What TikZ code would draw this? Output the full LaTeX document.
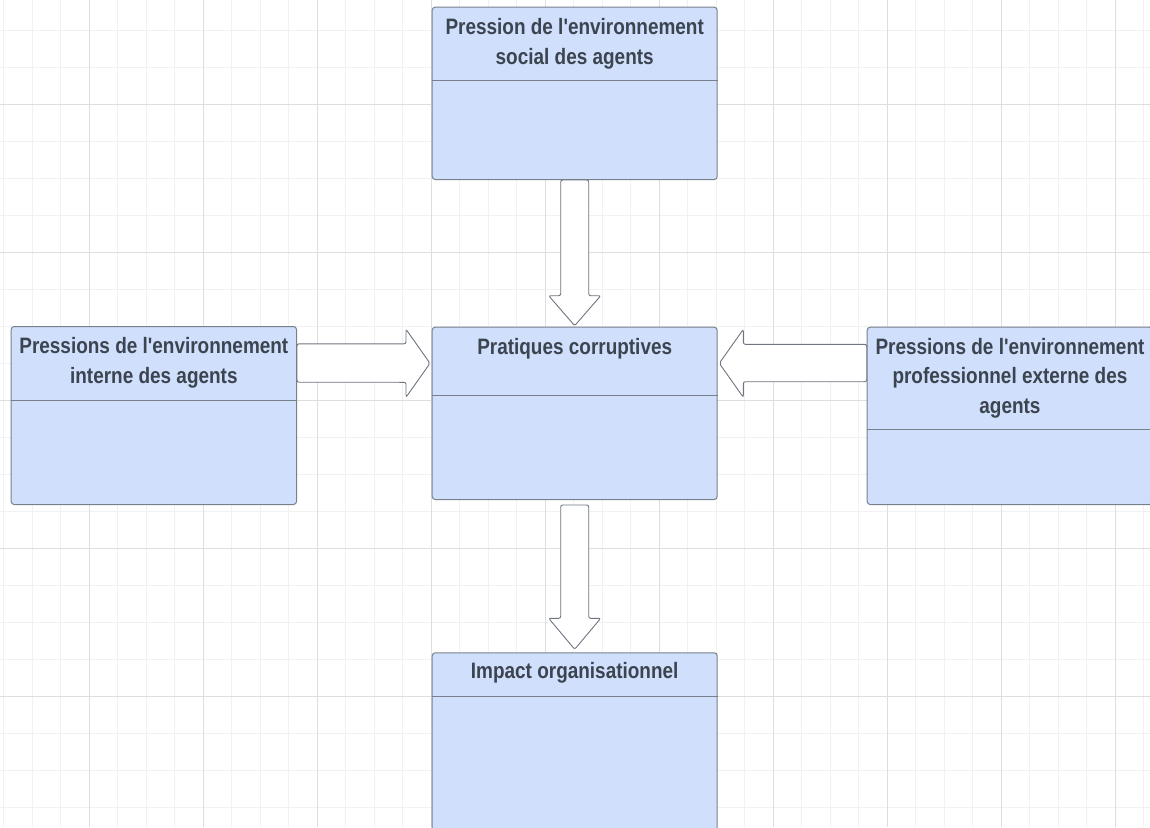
\documentclass[tikz,border=0pt]{standalone}
\usepackage{fontspec}
\newfontfamily\boxfont{Liberation Sans}[FakeStretch=0.85,Ligatures=TeXOff]
\usetikzlibrary{calc}
\definecolor{boxfill}{RGB}{208,224,252}
\definecolor{boxline}{RGB}{120,128,140}
\definecolor{txt}{RGB}{60,68,80}
\definecolor{gridminor}{RGB}{241,241,241}
\definecolor{gridmajor}{RGB}{222,222,222}
\definecolor{arrowline}{RGB}{110,117,128}
\begin{document}
\begin{tikzpicture}[x=1pt,y=-1pt,
  card/.style={draw=boxline, line width=1pt, fill=boxfill, rounded corners=3pt, anchor=north west, inner sep=0pt, minimum width=285pt},
  cardtitle/.style={anchor=north, inner sep=0pt, align=center, text=txt, font={\boxfont\bfseries\fontsize{22.3}{29.5}\selectfont}},
  divider/.style={draw=boxline, line width=1pt},
  blockarrow/.style={draw=arrowline, line width=0.9pt, fill=white, rounded corners=2pt},
  minorgrid/.style={draw=gridminor, line width=1pt},
  majorgrid/.style={draw=gridmajor, line width=1.3pt}]
\useasboundingbox (0,0) rectangle (1150,827);
\begin{scope}
\clip (0,0) rectangle (1150,827);
\fill[white] (0,0) rectangle (1150,827);
\foreach \i in {0,...,40} \draw[minorgrid] ({3.8+28.5*\i},0) -- ({3.8+28.5*\i},827);
\foreach \j in {-1,...,21} \draw[minorgrid] (0,{30.3+37*\j}) -- (1150,{30.3+37*\j});
\foreach \i in {-1,...,9} \draw[majorgrid] ({89.3+114*\i},0) -- ({89.3+114*\i},827);
\foreach \j in {-1,...,5} \draw[majorgrid] (0,{104.3+148*\j}) -- (1150,{104.3+148*\j});
\end{scope}

% boxes
\node[card, minimum height=172.3pt] (pTop) at (431.7,6.7) {};
\node[card, minimum height=178pt, minimum width=285.3pt] (pLeft) at (10.7,326) {};
\node[card, minimum height=172.3pt] (pCenter) at (431.7,326.7) {};
\node[card, minimum height=177.3pt, minimum width=285.5pt] (pRight) at (866.7,326.7) {};
\node[card, minimum height=182pt] (pBottom) at (431.7,652.3) {};

% dividers
\draw[divider] ($(pTop.north west)+(0,74)$) -- ($(pTop.north east)+(0,74)$);
\draw[divider] ($(pLeft.north west)+(0,74)$) -- ($(pLeft.north east)+(0,74)$);
\draw[divider] ($(pCenter.north west)+(0,69)$) -- ($(pCenter.north east)+(0,69)$);
\draw[divider] ($(pRight.north west)+(0,102.6)$) -- ($(pRight.north east)+(0,102.6)$);
\draw[divider] ($(pBottom.north west)+(0,44.4)$) -- ($(pBottom.north east)+(0,44.4)$);

% titles
\node[cardtitle] (tTop) at ($(pTop.north)+(0,11.6)$) {Pression de l'environnement\\social des agents};
\node[cardtitle] (tLeft) at ($(pLeft.north)+(0,11.3)$) {Pressions de l'environnement\\interne des agents};
\node[cardtitle] (tCenter) at ($(pCenter.north)+(0,11.3)$) {Pratiques corruptives};
\node[cardtitle] (tRight) at ($(pRight.north)+(0,11.3)$) {Pressions de l'environnement\\professionnel externe des\\agents};
\node[cardtitle] (tBottom) at ($(pBottom.north)+(0,9.6)$) {Impact organisationnel};

% block arrows
\draw[blockarrow] ($(pTop.south)+(-14,0)$) -- ($(pCenter.north)+(-14,-31)$) -- ($(pCenter.north)+(-26,-31)$) -- ($(pCenter.north)+(0,-1)$) -- ($(pCenter.north)+(26,-31)$) -- ($(pCenter.north)+(14,-31)$) -- ($(pTop.south)+(14,0)$) -- cycle;
\draw[blockarrow] ($(pCenter.south)+(-14,5)$) -- ($(pBottom.north)+(-14,-34)$) -- ($(pBottom.north)+(-26,-34)$) -- ($(pBottom.north)+(0,-3)$) -- ($(pBottom.north)+(26,-34)$) -- ($(pBottom.north)+(14,-34)$) -- ($(pCenter.south)+(14,5)$) -- cycle;
\draw[blockarrow] ($(pLeft.north east)+(0,17.8)$) -- ($(pCenter.north west)+(-25.7,17.1)$) -- ($(pCenter.north west)+(-25.7,2.6)$) -- ($(pCenter.north west)+(-1.7,36.6)$) -- ($(pCenter.north west)+(-25.7,70.6)$) -- ($(pCenter.north west)+(-25.7,55.6)$) -- ($(pLeft.north east)+(0,56.2)$) -- cycle;
\draw[blockarrow] ($(pRight.north west)+(0,17.6)$) -- ($(pCenter.north east)+(25.6,17.6)$) -- ($(pCenter.north east)+(25.6,2.6)$) -- ($(pCenter.north east)+(1.6,36.6)$) -- ($(pCenter.north east)+(25.6,70.6)$) -- ($(pCenter.north east)+(25.6,55.0)$) -- ($(pRight.north west)+(0,55.0)$) -- cycle;
\end{tikzpicture}
\end{document}
